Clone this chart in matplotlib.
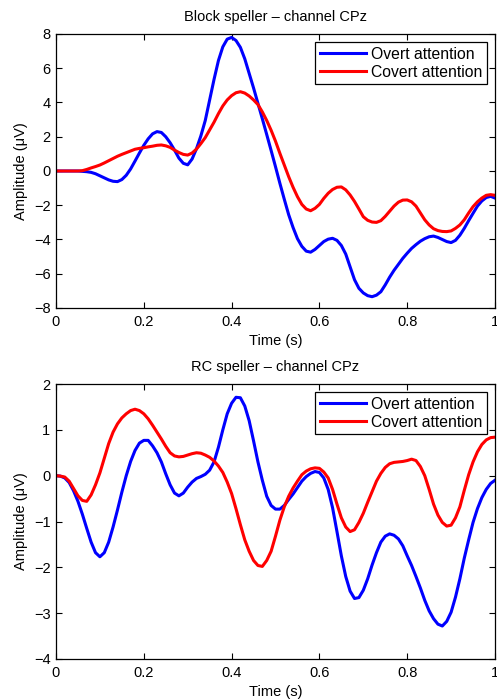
import matplotlib
matplotlib.use("Agg")
import matplotlib.pyplot as plt
import numpy as np

plt.rcParams['font.family'] = ['Liberation Sans', 'DejaVu Sans']

# time axis (s), 10 ms sampling
time = np.round(np.linspace(0.0, 1.0, 101), 2)

# Block speller, channel CPz
block_overt = [
    0.00, 0.00, 0.00, 0.00, 0.00, 0.00, -0.02, -0.04, -0.08, -0.16,
    -0.28, -0.40, -0.52, -0.60, -0.62, -0.50, -0.25, 0.12, 0.58, 1.05,
    1.50, 1.88, 2.17, 2.30, 2.25, 2.00, 1.65, 1.22, 0.75, 0.45,
    0.36, 0.70, 1.30, 2.05, 2.95, 4.15, 5.35, 6.45, 7.25, 7.70,
    7.80, 7.62, 7.22, 6.55, 5.70, 4.85, 3.95, 3.05, 2.13, 1.20,
    0.25, -0.72, -1.65, -2.55, -3.30, -3.95, -4.40, -4.68, -4.74, -4.58,
    -4.35, -4.12, -3.98, -3.93, -4.05, -4.35, -4.85, -5.60, -6.35, -6.85,
    -7.12, -7.28, -7.34, -7.25, -7.05, -6.65, -6.20, -5.80, -5.45, -5.10,
    -4.80, -4.52, -4.30, -4.10, -3.95, -3.84, -3.80, -3.88, -4.00, -4.12,
    -4.18, -4.05, -3.75, -3.35, -2.90, -2.47, -2.05, -1.75, -1.55, -1.48,
    -1.58]
block_covert = [
    0.00, 0.00, 0.00, 0.00, 0.00, 0.00, 0.02, 0.09, 0.18, 0.26,
    0.35, 0.47, 0.60, 0.73, 0.86, 0.97, 1.07, 1.17, 1.27, 1.32,
    1.36, 1.41, 1.45, 1.50, 1.52, 1.47, 1.38, 1.22, 1.08, 0.97,
    0.93, 1.05, 1.28, 1.60, 1.95, 2.40, 2.85, 3.35, 3.80, 4.15,
    4.40, 4.57, 4.63, 4.55, 4.38, 4.15, 3.88, 3.45, 2.95, 2.38,
    1.74, 1.03, 0.35, -0.33, -0.95, -1.50, -1.95, -2.22, -2.32, -2.18,
    -1.95, -1.60, -1.30, -1.08, -0.95, -0.93, -1.10, -1.40, -1.78, -2.22,
    -2.67, -2.88, -2.98, -3.00, -2.90, -2.65, -2.35, -2.05, -1.82, -1.70,
    -1.69, -1.80, -2.05, -2.45, -2.85, -3.15, -3.37, -3.48, -3.53, -3.54,
    -3.50, -3.35, -3.15, -2.85, -2.45, -2.08, -1.80, -1.58, -1.42, -1.38,
    -1.42]

# RC speller, channel CPz
rc_overt = [
    0.00, -0.01, -0.05, -0.15, -0.33, -0.56, -0.84, -1.15, -1.45, -1.68,
    -1.77, -1.68, -1.45, -1.12, -0.75, -0.36, 0.00, 0.31, 0.55, 0.71,
    0.77, 0.77, 0.65, 0.50, 0.30, 0.04, -0.20, -0.38, -0.44, -0.38,
    -0.25, -0.14, -0.06, -0.02, 0.03, 0.12, 0.30, 0.62, 1.00, 1.35,
    1.58, 1.71, 1.70, 1.52, 1.20, 0.76, 0.30, -0.10, -0.45, -0.65,
    -0.73, -0.73, -0.65, -0.52, -0.40, -0.26, -0.12, -0.02, 0.05, 0.09,
    0.07, -0.05, -0.30, -0.70, -1.22, -1.75, -2.20, -2.52, -2.68, -2.66,
    -2.50, -2.25, -1.95, -1.68, -1.45, -1.32, -1.27, -1.30, -1.38, -1.53,
    -1.75, -1.96, -2.20, -2.45, -2.72, -2.95, -3.12, -3.24, -3.28, -3.18,
    -2.98, -2.65, -2.25, -1.80, -1.40, -1.02, -0.72, -0.48, -0.30, -0.17,
    -0.10]
rc_covert = [
    0.00, -0.01, -0.03, -0.12, -0.28, -0.44, -0.54, -0.56, -0.42, -0.20,
    0.06, 0.38, 0.70, 0.95, 1.13, 1.26, 1.35, 1.42, 1.45, 1.42,
    1.35, 1.24, 1.10, 0.95, 0.80, 0.64, 0.50, 0.43, 0.41, 0.42,
    0.45, 0.48, 0.50, 0.49, 0.45, 0.40, 0.32, 0.21, 0.07, -0.14,
    -0.39, -0.72, -1.07, -1.40, -1.65, -1.85, -1.96, -1.98, -1.85, -1.65,
    -1.32, -0.97, -0.68, -0.45, -0.27, -0.12, 0.02, 0.10, 0.15, 0.17,
    0.16, 0.08, -0.05, -0.30, -0.62, -0.92, -1.12, -1.22, -1.18, -1.02,
    -0.82, -0.58, -0.35, -0.12, 0.05, 0.18, 0.26, 0.29, 0.30, 0.31,
    0.33, 0.36, 0.33, 0.20, 0.00, -0.30, -0.62, -0.86, -1.02, -1.10,
    -1.08, -0.92, -0.68, -0.32, 0.02, 0.30, 0.52, 0.68, 0.78, 0.83,
    0.84]

titles = ["Block speller \u2013 channel CPz", "RC speller \u2013 channel CPz"]
series_labels = ["Overt attention", "Covert attention"]
x_ticks = [0, 0.2, 0.4, 0.6, 0.8, 1]
x_tick_labels = ["0", "0.2", "0.4", "0.6", "0.8", "1"]
y_ticks_top = [-8, -6, -4, -2, 0, 2, 4, 6, 8]
y_ticks_bottom = [-4, -3, -2, -1, 0, 1, 2]

fig = plt.figure(figsize=(4.97, 7.0), dpi=100)
ax1 = fig.add_axes([56/497, 1 - 308/700, 439/497, 274/700])
ax2 = fig.add_axes([56/497, 1 - 659/700, 439/497, 275/700])

panels = [
    (ax1, block_overt, block_covert, titles[0], y_ticks_top),
    (ax2, rc_overt, rc_covert, titles[1], y_ticks_bottom),
]

for ax, ov, cv, title, yt in panels:
    ax.plot(time, ov, color=(0, 0, 1), lw=2.2, label=series_labels[0],
            solid_joinstyle='round')
    ax.plot(time, cv, color=(1, 0, 0), lw=2.2, label=series_labels[1],
            solid_joinstyle='round')
    ax.set_xlim(0, 1)
    ax.set_ylim(yt[0], yt[-1])
    ax.set_xticks(x_ticks)
    ax.set_xticklabels(x_tick_labels)
    ax.set_yticks(yt)
    ax.tick_params(direction='in', length=4, width=0.8, top=True, right=True,
                   labelsize=10.5, pad=4, colors='black')
    ax.tick_params(axis='x', pad=5)
    for s in ax.spines.values():
        s.set_linewidth(0.9)
        s.set_color('black')
    ax.set_title(title, fontsize=10.5, pad=9)
    ax.set_xlabel("Time (s)", fontsize=10.5, labelpad=3.5)
    ax.set_ylabel("Amplitude (\u03bcV)", fontsize=10.5, labelpad=4)
    leg = ax.legend(loc='upper right', fontsize=11.3, frameon=True, fancybox=False,
                    shadow=False, borderaxespad=0.5, borderpad=0.3,
                    labelspacing=0.2, handlelength=2.9, handletextpad=0.35)
    leg.get_frame().set_edgecolor('black')
    leg.get_frame().set_linewidth(0.9)
    leg.get_frame().set_alpha(1.0)

fig.savefig("out.png", dpi=100)
